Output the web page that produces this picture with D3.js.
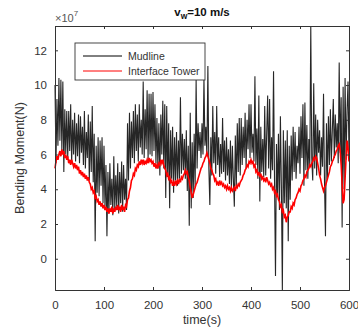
<!DOCTYPE html>
<html>
<head>
<meta charset="utf-8">
<script src="https://cdn.jsdelivr.net/npm/d3@7"></script>
<style>
  body { margin: 0; background: #fff; }
  svg text { font-family: "Liberation Sans", Arial, sans-serif; }
</style>
</head>
<body>
<svg id="chart" width="358" height="331"></svg>
<script>
// sample step of both series, seconds
const dt = 2;

// bending moment at the mudline (x1e7 N), one value every dt seconds from 0 to 600 s
const mudline = [
  10.0, 5.5, 9.2, 6.5, 10.4,   6.8, 10.3, 6.2, 10.2, 5.0,
  8.6, 6.0, 8.5, 5.8, 8.5,     6.2, 8.9, 5.5, 8.0, 6.0,
  8.4, 5.6, 7.8, 5.9, 8.3,     5.5, 8.2, 6.1, 7.6, 5.4,
  8.5, 5.2, 7.3, 5.8, 8.3,     4.5, 7.9, 5.0, 8.8, 4.4,
  7.2, 1.0, 6.5, 3.8, 7.0,     3.6, 6.8, 4.2, 7.0, 3.2,
  6.5, 3.0, 5.4, 1.3, 5.0,     2.6, 5.5, 3.1, 4.6, 2.5,
  5.9, 2.8, 4.8, 3.0, 5.5,     2.6, 5.0, 3.2, 5.6, 2.7,
  5.4, 3.4, 4.6, 2.8, 7.8,     4.5, 8.4, 5.2, 7.9, 5.8,
  8.5, 5.5, 8.9, 6.2, 8.3,     5.6, 8.9, 6.4, 8.0, 6.0,
  10.2, 5.8, 8.6, 6.3, 9.7,    5.7, 9.5, 6.0, 9.5, 5.9,
  9.6, 6.2, 8.9, 5.5, 8.1,     5.2, 7.8, 4.8, 8.3, 6.0,
  9.1, 5.2, 8.9, 3.5, 8.8,     4.7, 7.8, 2.9, 7.4, 4.6,
  7.6, 3.8, 7.0, 4.5, 7.3,     4.2, 6.8, 4.6, 9.3, 4.9,
  7.2, 5.1, 6.9, 4.6, 7.4,     3.9, 6.5, 1.9, 8.4, 2.9,
  6.7, 3.5, 7.2, 4.1, 10.3,    5.2, 7.8, 6.2, 7.3, 5.8,
  7.8, 6.0, 10.4, 6.5, 7.6,    5.9, 11.1, 5.2, 3.1, 7.0,
  4.8, 8.8, 5.5, 7.3, 4.9,     8.8, 5.4, 7.0, 4.7, 6.6,
  4.9, 8.1, 5.0, 6.8, 4.5,     7.0, 4.8, 6.3, 4.3, 6.8,
  3.9, 6.5, 4.6, 3.0, 7.1,     4.2, 7.8, 5.0, 8.1, 4.8,
  8.1, 5.4, 7.6, 5.8, 8.4,     5.2, 8.0, 6.3, 8.9, 5.8,
  8.9, 6.1, 7.2, 5.6, 10.5,    5.4, 7.5, 4.6, 9.4, 3.3,
  7.6, 5.0, 6.9, 4.7, 8.8,     4.8, 7.2, 9.4, 5.2, 9.2,
  4.6, 7.0, 5.1, 10.8, 4.5,    -1.0, 6.6, 3.6, 7.2, 2.8,
  8.2, 4.2, -1.8, 7.4, 3.2,    6.8, 2.9, 7.4, 1.0, 6.5,
  3.4, 7.1, 4.5, 7.6, 5.0,     7.3, 4.6, 6.5, 5.5, 7.6,
  4.9, 8.2, 5.8, 8.9, 4.2,     9.0, 5.1, 7.7, 4.6, 6.9,
  5.3, 13.4, 5.8, 4.5, 10.1,   5.2, 8.3, 4.8, 8.0, 6.1,
  7.4, 4.8, 7.0, 5.3, 9.5,     4.4, 1.3, 7.8, 4.6, 8.2,
  5.4, 8.6, 5.6, 7.4, 9.2,     5.8, 8.3, 6.4, 7.8, 5.5,
  11.3, 6.1, 9.3, 1.8, 9.9,    4.0, 10.4, 5.7, 8.5, 10.2,
  6.0
];

// bending moment at the tower interface (x1e7 N), same sampling
const interfaceTower = [
  5.2, 5.6, 5.9, 5.7, 6.0,   6.2, 5.9, 6.3, 6.0, 6.2,
  5.8, 6.0, 5.7, 5.9, 5.5,   5.7, 5.4, 5.7, 5.5, 5.3,
  5.5, 5.2, 5.4, 5.1, 5.3,   4.9, 5.1, 4.8, 5.0, 4.7,
  4.9, 4.6, 4.8, 4.5, 4.7,   4.4, 4.3, 4.0, 4.1, 3.8,
  3.9, 3.5, 3.6, 3.3, 3.4,   3.1, 3.3, 3.0, 3.2, 2.9,
  3.1, 2.8, 3.0, 2.7, 2.9,   2.6, 2.9, 2.7, 3.0, 2.6,
  2.9, 2.7, 3.0, 2.8, 3.1,   2.8, 3.0, 2.7, 3.1, 2.8,
  3.0, 2.7, 3.1, 3.0, 3.4,   3.5, 3.9, 4.1, 4.5, 4.6,
  4.9, 4.8, 5.2, 5.1, 5.4,   5.3, 5.6, 5.4, 5.7, 5.5,
  5.7, 5.4, 5.6, 5.5, 5.7,   5.5, 5.8, 5.6, 5.7, 5.5,
  5.6, 5.3, 5.5, 5.2, 5.4,   5.2, 5.5, 5.4, 5.7, 5.5,
  5.7, 5.4, 5.2, 5.1, 4.8,   4.9, 4.6, 4.7, 4.4, 4.5,
  4.2, 4.4, 4.2, 4.5, 4.3,   4.5, 4.3, 4.6, 4.4, 4.7,
  4.6, 4.8, 4.9, 5.1, 4.9,   5.0, 4.7, 4.5, 4.1, 3.8,
  3.5, 3.7, 3.9, 4.1, 4.3,   4.4, 4.6, 4.8, 5.0, 5.2,
  5.3, 5.5, 5.6, 5.8, 5.9,   6.1, 5.9, 5.7, 5.5, 5.2,
  5.1, 4.9, 4.8, 4.5, 4.6,   4.3, 4.4, 4.2, 4.5, 4.3,
  4.4, 4.2, 4.3, 4.1, 4.2,   4.0, 4.2, 4.0, 4.1, 3.9,
  4.1, 3.9, 4.0, 4.1, 3.9,   4.2, 4.1, 4.3, 4.2, 4.4,
  4.5, 4.6, 4.8, 4.9, 5.1,   5.2, 5.4, 5.3, 5.6, 5.5,
  5.7, 5.5, 5.6, 5.3, 5.4,   5.0, 5.1, 4.8, 5.0, 4.7,
  4.9, 4.6, 4.7, 4.5, 4.6,   4.4, 4.7, 4.5, 4.3, 4.4,
  4.2, 4.3, 4.0, 4.1, 3.8,   3.9, 3.6, 3.7, 3.4, 3.3,
  3.0, 3.1, 2.7, 2.8, 2.4,   2.5, 2.1, 2.4, 2.5, 2.7,
  2.7, 3.0, 2.9, 3.2, 3.1,   3.4, 3.5, 3.7, 3.8, 4.0,
  3.9, 4.2, 4.3, 4.5, 4.6,   4.8, 4.7, 5.0, 5.1, 5.2,
  5.4, 5.3, 5.5, 5.6, 5.8,   5.7, 5.9, 5.8, 5.5, 5.2,
  4.8, 4.6, 4.3, 4.1, 3.9,   4.1, 4.2, 4.4, 4.6, 4.8,
  5.0, 5.3, 5.4, 5.6, 5.7,   5.9, 6.0, 6.2, 6.3, 6.5,
  6.6, 6.2, 5.4, 4.3, 3.2,   3.4, 4.6, 5.8, 6.8, 6.4,
  5.6
];

const xTicks = [0, 100, 200, 300, 400, 500, 600];
const yTicks = [0, 2, 4, 6, 8, 10, 12];
const seriesNames = ["Mudline", "Interface Tower"];
const seriesColors = ["#000000", "#ff0000"];

const W = 358, H = 331;
const margin = {top: 26, right: 9, bottom: 41, left: 55};
const iw = W - margin.left - margin.right;
const ih = H - margin.top - margin.bottom;
const axisGray = "#333";

const svg = d3.select("#chart");
const g = svg.append("g").attr("transform", `translate(${margin.left},${margin.top})`);

const x = d3.scaleLinear().domain([0, 600]).range([0, iw]);
const y = d3.scaleLinear().domain(d3.extent(mudline.concat(interfaceTower))).range([ih, 0]);

const line = d3.line()
  .x((d, i) => x(i * dt))
  .y(d => y(d));

g.append("path")
  .datum(mudline)
  .attr("fill", "none")
  .attr("stroke", seriesColors[0])
  .attr("stroke-opacity", 0.85)
  .attr("stroke-width", 1.1)
  .attr("d", line);

g.append("path")
  .datum(interfaceTower)
  .attr("fill", "none")
  .attr("stroke", seriesColors[1])
  .attr("stroke-width", 1.6)
  .attr("d", line);

// axes, matlab-style inward ticks on all four sides
const xAxis = g.append("g").attr("transform", `translate(0,${ih})`)
  .call(d3.axisBottom(x).tickValues(xTicks).tickSize(-3).tickPadding(11).tickFormat(d3.format("d")));
const xTop = g.append("g")
  .call(d3.axisTop(x).tickValues(xTicks).tickSize(-3).tickFormat(""));
const yAxis = g.append("g")
  .call(d3.axisLeft(y).tickValues(yTicks).tickSize(-3).tickPadding(8).tickFormat(d3.format("d")));
const yRight = g.append("g").attr("transform", `translate(${iw},0)`)
  .call(d3.axisRight(y).tickValues(yTicks).tickSize(-3).tickFormat(""));

[xAxis, xTop, yAxis, yRight].forEach(a => {
  a.select(".domain").attr("stroke", axisGray).attr("stroke-width", 1);
  a.selectAll(".tick line").attr("stroke", axisGray);
  a.selectAll("text").attr("fill", axisGray).attr("font-size", 11.5)
    .attr("font-family", "Liberation Sans, Arial, sans-serif");
});

// exponent label
const expo = svg.append("text")
  .attr("x", margin.left)
  .attr("y", 22)
  .attr("fill", "#555")
  .attr("font-size", 11);
expo.append("tspan").text("\u00d710");
expo.append("tspan").attr("dy", -6).attr("font-size", 8).text("7");

// title
const title = svg.append("text")
  .attr("x", margin.left + iw / 2)
  .attr("y", 16)
  .attr("text-anchor", "middle")
  .attr("font-size", 11.5)
  .attr("font-weight", "bold")
  .attr("fill", "#111");
title.append("tspan").text("v");
title.append("tspan").attr("dy", 3).attr("font-size", 8.5).text("w");
title.append("tspan").attr("dy", -3).text("=10 m/s");

// axis labels
svg.append("text")
  .attr("x", margin.left + iw / 2)
  .attr("y", 324)
  .attr("text-anchor", "middle")
  .attr("font-size", 12.5)
  .attr("fill", axisGray)
  .text("time(s)");

svg.append("text")
  .attr("transform", `translate(24,${margin.top + ih / 2}) rotate(-90)`)
  .attr("text-anchor", "middle")
  .attr("font-size", 12.5)
  .attr("fill", axisGray)
  .text("Bending Moment(N)");

// legend
const legend = svg.append("g").attr("transform", "translate(75,43)");
legend.append("rect")
  .attr("width", 130).attr("height", 37)
  .attr("fill", "#fff").attr("stroke", axisGray).attr("stroke-width", 0.9);
seriesNames.forEach((name, i) => {
  const row = legend.append("g").attr("transform", `translate(0,${13 + i * 15})`);
  row.append("line")
    .attr("x1", 8).attr("x2", 47)
    .attr("stroke", seriesColors[i]).attr("stroke-width", 1);
  row.append("text")
    .attr("x", 53).attr("y", 4)
    .attr("font-size", 10.5)
    .attr("fill", axisGray)
    .text(name);
});
</script>
</body>
</html>
